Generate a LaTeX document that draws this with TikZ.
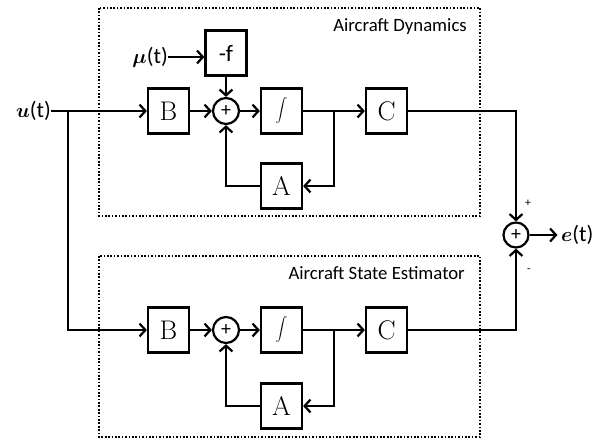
\documentclass[tikz,border=0pt]{standalone}
\usepackage{fontspec}
\usepackage{bm}
\usetikzlibrary{arrows.meta,calc,positioning}
\newfontfamily\calibri{Carlito}

\begin{document}
\begin{tikzpicture}[x=0.03cm,y=-0.03cm,>={Straight Barb[length=5pt,width=11pt]},
 blockbox/.style={draw,line width=1.9pt,minimum width=1.23cm,minimum height=1.35cm,inner sep=0pt,font=\fontsize{23}{24}\selectfont},
 sumnode/.style={draw,circle,line width=1.9pt,minimum size=0.78cm,inner sep=0pt,font=\calibri\fontsize{17}{17}\selectfont},
 sig/.style={line width=1.9pt},
 framebox/.style={line width=2.1pt,dash pattern=on 1.4pt off 1.5pt},
 lbl/.style={font=\calibri\fontsize{16}{18}\selectfont,inner sep=0pt}]
 \useasboundingbox (0,0) rectangle (604,439);
 \draw[framebox] (99,8) rectangle (480,216);
 \draw[framebox] (99,256) rectangle (480,437);
 \node[lbl,anchor=base east] (dyntitle) at (467,31) {Aircraft Dynamics};
 \node[lbl,anchor=base east] (esttitle) at (465,279) {Aircraft State Estimator};
 \node[lbl,anchor=east,font=\calibri\fontsize{19}{20}\selectfont] (uin) at (51,111) {$\bm{u}$(t)};
 \node[lbl,anchor=east,font=\calibri\fontsize{19}{20}\selectfont] (mu) at (168,57) {$\bm{\mu}$(t)};
 \node[blockbox,font=\calibri\fontsize{20}{20}\selectfont] (f) at (226,53) {-f};
 \node[blockbox] (b1) at (168.5,111) {B};
 \node[sumnode] (s1) at (226,111) {+};
 \node[blockbox] (int1) at (281.5,111) {$\displaystyle\int$};
 \node[blockbox] (c1) at (386.5,111) {C};
 \node[blockbox] (a1) at (281.5,186) {A};
 \node[blockbox] (b2) at (168.5,330) {B};
 \node[sumnode] (s2) at (226,330) {+};
 \node[blockbox] (int2) at (281.5,330) {$\displaystyle\int$};
 \node[blockbox] (c2) at (386.5,330) {C};
 \node[blockbox] (a2) at (281.5,406) {A};
 \node[sumnode,minimum size=0.75cm] (s3) at (516,235) {+};
 \node[lbl,anchor=west,font=\calibri\fontsize{19}{20}\selectfont] (eout) at (561,235) {$\bm{e}$(t)};
 \node[font=\calibri\fontsize{10}{10}\selectfont,inner sep=0pt] (plus) at (528,203) {+};
 \node[font=\calibri\fontsize{10}{10}\selectfont,inner sep=0pt] (minus) at (529,271) {-};
 \coordinate (split) at (68,111);
 \coordinate (tap1) at (334,111);
 \coordinate (tap2) at (334,330);
 \draw[sig,->] (uin.east) -- (b1.west);
 \draw[sig,->] (split) |- (b2.west);
 \draw[sig,->] (mu.east) -- (mu.east -| f.west);
 \draw[sig,->] (f) -- (s1);
 \draw[sig,->] (b1) -- (s1);
 \draw[sig,->] (s1) -- (int1);
 \draw[sig,->] (int1) -- (c1);
 \draw[sig,->] (tap1) |- (a1.east);
 \draw[sig,->] (a1.west) -| (s1.south);
 \draw[sig,->] (b2) -- (s2);
 \draw[sig,->] (s2) -- (int2);
 \draw[sig,->] (int2) -- (c2);
 \draw[sig,->] (tap2) |- (a2.east);
 \draw[sig,->] (a2.west) -| (s2.south);
 \draw[sig,->] (c1.east) -| (s3.north);
 \draw[sig,->] (c2.east) -| (s3.south);
 \draw[sig,->,shorten >=3pt] (s3) -- (eout.west);
\end{tikzpicture}
\end{document}
